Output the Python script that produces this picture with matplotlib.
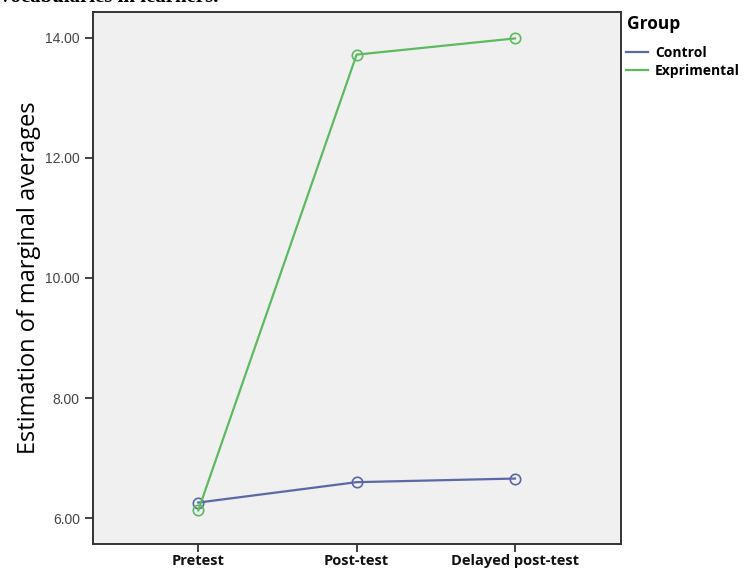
import matplotlib
matplotlib.use("Agg")
import matplotlib.pyplot as plt
from matplotlib.lines import Line2D

# --- data ---
times = ["Pretest", "Post-test", "Delayed post-test"]
control = [6.26, 6.60, 6.66]
experimental = [6.13, 13.72, 13.99]
groups = ["Control", "Exprimental"]
yticks = [6, 8, 10, 12, 14]

c_ctrl = "#5b68a6"
c_exp = "#5cba5f"

fig = plt.figure(figsize=(7.46, 5.68), dpi=100)
ax = fig.add_axes([93 / 746, 24 / 568, 528 / 746, 532 / 568])
ax.set_facecolor("#f0f0f0")

x = list(range(len(times)))
ax.plot(x, control, color=c_ctrl, lw=1.6, marker="o", ms=7.5,
        mfc="none", mec=c_ctrl, mew=1.2)
ax.plot(x, experimental, color=c_exp, lw=1.6, marker="o", ms=7.5,
        mfc="none", mec=c_exp, mew=1.2)

ax.set_xlim(-0.665, 2.67)
ax.set_ylim(5.57, 14.43)
ax.set_xticks(x)
ax.set_xticklabels(times, fontfamily="Open Sans", fontweight="bold",
                   fontsize=10.5, color="#111111")
ax.set_yticks(yticks)
ax.set_yticklabels([f"{v:.2f}" for v in yticks], fontfamily="Liberation Sans",
                   fontsize=10, color="#444444")
ax.tick_params(axis="both", direction="out", length=6, width=1.3, color="#333333")
ax.tick_params(axis="x", pad=1.5)
for s in ax.spines.values():
    s.set_color("#333333")
    s.set_linewidth(1.4)

ax.set_ylabel("Estimation of marginal averages", fontfamily="Open Sans",
              fontsize=17, color="#000000", labelpad=3)

# legend: title as separate text, entries below
fig.text(627 / 746, 1 - 24 / 568, "Group", fontfamily="Open Sans",
         fontweight="bold", fontsize=12.5, va="center", ha="left")
handles = [Line2D([], [], color=c_ctrl, lw=1.6),
           Line2D([], [], color=c_exp, lw=1.6)]
fig.legend(handles, groups, loc="upper left",
           bbox_to_anchor=(616 / 746, 1 - 36 / 568), frameon=False,
           handlelength=1.6, handletextpad=0.5, labelspacing=0.3,
           borderpad=0.2,
           prop={"family": "Open Sans", "weight": "bold", "size": 10})

# caption text cropped at the top of the screenshot
fig.text(0.0, 1 - 2.5 / 568, "vocabularies in learners.", fontfamily="Liberation Serif",
         fontweight="bold", fontsize=15, va="baseline", ha="left")

fig.savefig("out.png", dpi=100, facecolor="white")
